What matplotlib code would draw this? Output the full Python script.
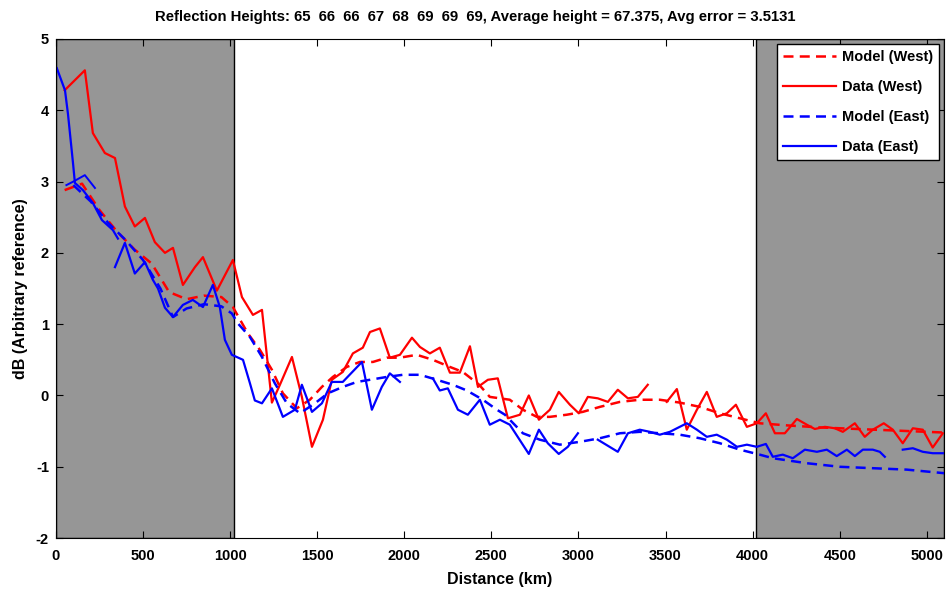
import numpy as np
import matplotlib
matplotlib.use("Agg")
import matplotlib.pyplot as plt
from matplotlib import font_manager

_names = {f.name for f in font_manager.fontManager.ttflist}
_main = 'Liberation Sans Narrow' if 'Liberation Sans Narrow' in _names else 'Liberation Sans'
plt.rcParams['font.family'] = [_main, 'DejaVu Sans']
plt.rcParams['axes.unicode_minus'] = False

nan = np.nan

title = "Reflection Heights: 65  66  66  67  68  69  69  69, Average height = 67.375, Avg error = 3.5131"

shade_spans = [(0, 1020), (4020, 5100)]

west_data_x = [50, 166, 212, 281, 339, 396, 453, 511, 568, 626, 672, 729, 798, 844, 924, 1016, 1068, 1131, 1183,
               1240, 1286, 1355, 1412, 1470, 1533, 1584, 1647, 1705, 1762, 1803, 1860, 1917, 1975, 2044, 2090,
               2147, 2204, 2262, 2319, 2377, 2423, 2480, 2537, 2595, 2664, 2715, 2773, 2836, 2887, 2951, 3002,
               3054, 3111, 3169, 3226, 3284, 3341, 3398, nan, 3507, 3565, 3622, 3680, 3737, 3794, 3852, 3904,
               3967, 4024, 4076, 4128, 4185, 4254, 4311, 4357, 4415, 4472, 4518, 4587, 4644, 4690, 4753, 4805,
               4862, 4920, 4977, 5034, 5092]
west_data_y = [4.28, 4.56, 3.68, 3.40, 3.33, 2.65, 2.37, 2.49, 2.15, 2.00, 2.07, 1.55, 1.80, 1.94, 1.47, 1.90,
               1.38, 1.13, 1.20, -0.10, 0.15, 0.54, -0.02, -0.72, -0.34, 0.22, 0.33, 0.59, 0.67, 0.89, 0.94,
               0.53, 0.57, 0.81, 0.68, 0.59, 0.67, 0.32, 0.32, 0.69, 0.12, 0.22, 0.24, -0.32, -0.27, 0.00,
               -0.34, -0.20, 0.05, -0.13, -0.25, -0.02, -0.04, -0.09, 0.08, -0.04, -0.02, 0.15, nan, -0.09,
               0.09, -0.48, -0.20, 0.05, -0.30, -0.25, -0.13, -0.44, -0.39, -0.25, -0.53, -0.53, -0.33, -0.41,
               -0.47, -0.44, -0.46, -0.51, -0.39, -0.58, -0.48, -0.39, -0.48, -0.67, -0.46, -0.48, -0.73, -0.53]

east_data_x = [5, 52, 69, 98, 109, 155, 212, 264, 327, 356, nan, 339, 396, 453, 511, 557, 586, 626, 672, 729,
               786, 844, 901, 941, 970, 1010, 1074, 1114, 1142, 1183, 1240, 1303, 1372, 1412, 1470, 1527, 1584,
               1647, 1757, 1814, 1871, 1917, 1975, nan, 2164, 2204, 2250, 2308, 2365, 2434, 2491, 2549, 2606,
               2715, 2773, 2824, 2887, 2939, 2997, nan, 3111, 3226, 3284, 3352, 3410, 3467, 3525, 3622, 3680,
               3737, 3794, 3852, 3910, 3967, 4024, 4076, 4116, 4173, 4231, 4300, 4369, 4426, 4483, 4541, 4587,
               4633, 4690, 4730, 4759, nan, 4862, 4920, 4977, 5034, 5100]
east_data_y = [4.59, 4.28, 3.95, 3.26, 2.98, 2.88, 2.70, 2.46, 2.32, 2.20, nan, 1.80, 2.14, 1.71, 1.87, 1.62,
               1.50, 1.23, 1.10, 1.27, 1.34, 1.24, 1.55, 1.24, 0.78, 0.57, 0.50, 0.17, -0.07, -0.11, 0.10,
               -0.30, -0.20, 0.15, -0.23, -0.11, 0.19, 0.19, 0.47, -0.20, 0.12, 0.31, 0.19, nan, 0.24, 0.07,
               0.10, -0.20, -0.27, -0.06, -0.41, -0.34, -0.41, -0.82, -0.48, -0.67, -0.82, -0.72, -0.53, nan,
               -0.62, -0.79, -0.53, -0.48, -0.51, -0.55, -0.51, -0.39, -0.48, -0.58, -0.55, -0.62, -0.72,
               -0.69, -0.72, -0.68, -0.86, -0.83, -0.88, -0.76, -0.79, -0.76, -0.85, -0.76, -0.85, -0.76,
               -0.76, -0.79, -0.86, nan, -0.76, -0.74, -0.79, -0.81, -0.81]

east_extra_x = [60, 100, 166, 224]
east_extra_y = [2.95, 3.00, 3.09, 2.91]

west_model_x = [50, 150, 250, 350, 450, 550, 650, 750, 850, 950, 1016, 1102, 1171, 1240, 1303, 1383, 1458,
                1527, 1590, 1670, 1745, 1820, 1900, 1975, 2072, 2164, 2262, 2336, 2430, 2491, 2606, 2681, 2761,
                2836, 2933, 3025, 3123, 3238, 3352, 3467, 3582, 3697, 3812, 3927, 4041, 4200, 4400, 4600,
                4800, 5000, 5100]
west_model_y = [2.88, 2.97, 2.60, 2.30, 2.05, 1.85, 1.45, 1.35, 1.40, 1.38, 1.24, 0.87, 0.64, 0.36, 0.03,
                -0.18, -0.06, 0.12, 0.26, 0.40, 0.47, 0.47, 0.53, 0.53, 0.57, 0.50, 0.40, 0.33, 0.15, -0.02,
                -0.06, -0.20, -0.30, -0.30, -0.27, -0.23, -0.16, -0.09, -0.06, -0.06, -0.10, -0.16, -0.25,
                -0.32, -0.39, -0.42, -0.45, -0.47, -0.49, -0.51, -0.52]

east_model_x = [100, 200, 300, 400, 500, 600, 672, 750, 850, 950, 1010, 1045, 1114, 1183, 1257, 1326, 1401,
                1487, 1561, 1647, 1728, 1803, 1900, 1992, 2090, 2187, 2279, 2359, 2451, 2532, 2578, 2681, 2778,
                2893, 3008, 3123, 3238, 3352, 3467, 3582, 3697, 3812, 3927, 4041, 4116, 4311, 4500, 4690,
                4885, 5100]
east_model_y = [2.95, 2.72, 2.42, 2.18, 1.90, 1.50, 1.10, 1.22, 1.28, 1.25, 1.15, 1.01, 0.82, 0.54, 0.17,
                -0.11, -0.25, -0.11, 0.03, 0.12, 0.19, 0.22, 0.26, 0.29, 0.29, 0.22, 0.15, 0.07, -0.06, -0.20,
                -0.27, -0.53, -0.62, -0.69, -0.65, -0.60, -0.53, -0.51, -0.53, -0.55, -0.60, -0.67, -0.76,
                -0.83, -0.88, -0.95, -1.00, -1.02, -1.04, -1.09]

x_ticks = list(range(0, 5001, 500))
y_ticks = list(range(-2, 6))

narrow = (_main == 'Liberation Sans Narrow')
fs_tick = 12 if narrow else 10.5
fs_title = 12 if narrow else 10.7
fs_label = 13 if narrow else 11.5
fs_leg = 12 if narrow else 10.5

fig = plt.figure(figsize=(9.48, 5.90), dpi=100)
ax = fig.add_axes([0.059, 0.088, 0.937, 0.846])

for a, b in shade_spans:
    ax.axvspan(a, b, facecolor='#969696', edgecolor='black', linewidth=1.0, zorder=0)

dash = (0, (4, 2.5))
ax.plot(west_model_x, west_model_y, color='#ff0000', linestyle=dash, linewidth=1.8, label='Model (West)')
ax.plot(west_data_x, west_data_y, color='#ff0000', linewidth=1.6, label='Data (West)')
ax.plot(east_model_x, east_model_y, color='#0000ff', linestyle=dash, linewidth=1.8, label='Model (East)')
ax.plot(east_data_x, east_data_y, color='#0000ff', linewidth=1.6, label='Data (East)')
ax.plot(east_extra_x, east_extra_y, color='#0000ff', linewidth=1.4)

ax.set_xlim(0, 5100)
ax.set_ylim(-2, 5)
ax.set_xticks(x_ticks)
ax.set_yticks(y_ticks)
ax.tick_params(direction='in', top=True, right=True, length=5, labelsize=fs_tick, width=0.8)
ax.tick_params(axis='x', pad=8)
ax.tick_params(axis='y', pad=5)
for lab in ax.get_xticklabels() + ax.get_yticklabels():
    lab.set_fontweight('bold')

ax.set_title(title, fontsize=fs_title, fontweight='bold', pad=13, x=0.472)
ax.set_xlabel('Distance (km)', fontsize=fs_label, fontweight='bold', labelpad=6)
ax.set_ylabel('dB (Arbitrary reference)', fontsize=fs_label, fontweight='bold', labelpad=6)

leg = ax.legend(loc='upper right', fontsize=fs_leg, handlelength=3.6, handletextpad=0.45,
                borderaxespad=0.35, fancybox=False, framealpha=1.0, edgecolor='black',
                labelspacing=1.1)
leg.get_frame().set_linewidth(1.0)
for t in leg.get_texts():
    t.set_fontweight('bold')

fig.savefig('out.png', dpi=100)
